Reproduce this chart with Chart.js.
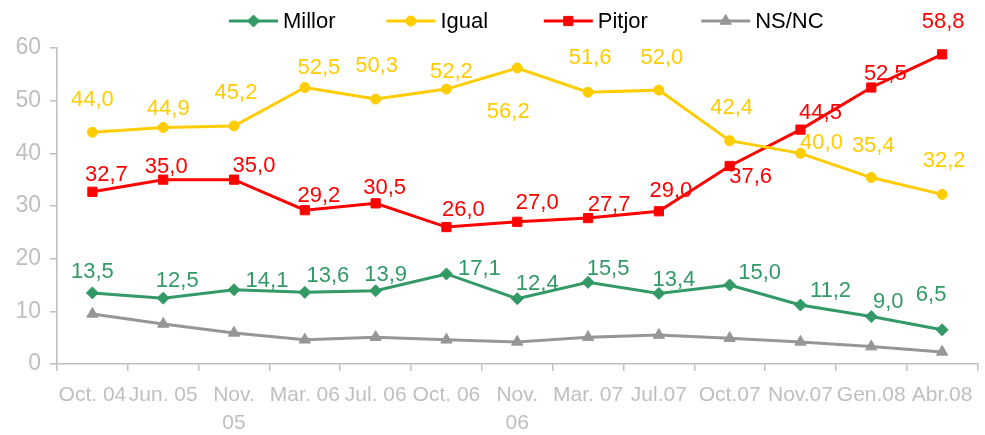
<!DOCTYPE html>
<html lang="ca">
<head>
<meta charset="UTF-8" />
<title>Millor / Igual / Pitjor / NS-NC</title>
<script src="https://cdn.jsdelivr.net/npm/chart.js"></script>
<style>
  body { margin: 0; background: #fff; }
  .wrap { width: 985px; height: 435px; position: relative; }
</style>
</head>
<body>
<div class="wrap"><canvas id="chart"></canvas></div>
<script>
  // periods on the x axis
  const periods = ['Oct. 04', 'Jun. 05', ['Nov.', '05'], 'Mar. 06', 'Jul. 06', 'Oct. 06',
                   ['Nov.', '06'], 'Mar. 07', 'Jul.07', 'Oct.07', 'Nov.07', 'Gen.08', 'Abr.08'];

  // series values (%)
  const millor = [13.5, 12.5, 14.1, 13.6, 13.9, 17.1, 12.4, 15.5, 13.4, 15.0, 11.2, 9.0, 6.5];
  const igual  = [44.0, 44.9, 45.2, 52.5, 50.3, 52.2, 56.2, 51.6, 52.0, 42.4, 40.0, 35.4, 32.2];
  const pitjor = [32.7, 35.0, 35.0, 29.2, 30.5, 26.0, 27.0, 27.7, 29.0, 37.6, 44.5, 52.5, 58.8];
  const nsnc   = [9.5, 7.6, 5.9, 4.6, 5.1, 4.6, 4.2, 5.1, 5.5, 4.9, 4.2, 3.3, 2.3];

  const yTicks = [0, 10, 20, 30, 40, 50, 60];

  // where each value label sits relative to its point (px)
  const millorLabelPos = [[0,-21],[14,-17],[33,-9],[23,-16],[10,-16],[33,-5],[20,-15],[20,-13],[15,-13],[30,-12],[30,-14],[17,-15],[-11,-35]];
  const igualLabelPos  = [[0,-32],[5,-19],[2,-33],[14,-20],[1,-33],[5,-17],[-9,44],[2,-34],[3,-32],[2,-33],[21,-10],[2,-32],[2,-33]];
  const pitjorLabelPos = [[14,-17],[3,-13],[20,-14],[14,-14],[9,-15],[17,-17],[20,-19],[21,-13],[12,-20],[21,11],[20,-17],[14,-14],[1,-32]];

  const FONT = "'Liberation Sans', Arial, sans-serif";
  const AXIS_GREY = '#BFBFBF';

  function fmt(v) {
    return v.toFixed(1).replace('.', ',');
  }

  function drawMarker(ctx, style, r, x, y) {
    ctx.beginPath();
    if (style === 'circle') {
      ctx.arc(x, y, r, 0, Math.PI * 2);
    } else if (style === 'rect') {
      const s = r * Math.SQRT1_2;
      ctx.rect(x - s, y - s, 2 * s, 2 * s);
    } else if (style === 'rectRot') {
      ctx.moveTo(x, y - r); ctx.lineTo(x + r, y); ctx.lineTo(x, y + r); ctx.lineTo(x - r, y);
      ctx.closePath();
    } else if (style === 'triangle') {
      ctx.moveTo(x, y - r);
      ctx.lineTo(x + r * 0.866, y + r * 0.5);
      ctx.lineTo(x - r * 0.866, y + r * 0.5);
      ctx.closePath();
    }
    ctx.fill();
    ctx.stroke();
  }

  const valueLabels = {
    id: 'valueLabels',
    afterDatasetsDraw(chart) {
      const ctx = chart.ctx;
      ctx.save();
      ctx.font = '22px ' + FONT;
      ctx.textAlign = 'center';
      ctx.textBaseline = 'middle';
      chart.data.datasets.forEach((ds, i) => {
        if (!ds.labelPos) return;
        ctx.fillStyle = ds.borderColor;
        chart.getDatasetMeta(i).data.forEach((pt, j) => {
          const off = ds.labelPos[j];
          ctx.fillText(fmt(ds.data[j]), pt.x + off[0], pt.y + off[1]);
        });
      });
      ctx.restore();
    }
  };

  const topLegend = {
    id: 'topLegend',
    afterDraw(chart) {
      const ctx = chart.ctx;
      ctx.save();
      ctx.font = '22px ' + FONT;
      ctx.textAlign = 'left';
      ctx.textBaseline = 'middle';
      chart.data.datasets.forEach((ds, i) => {
        const x = 229 + i * 157.4;
        const y = 21;
        ctx.strokeStyle = ds.borderColor;
        ctx.lineWidth = 3;
        ctx.beginPath();
        ctx.moveTo(x, y);
        ctx.lineTo(x + 49, y);
        ctx.stroke();
        ctx.fillStyle = ds.borderColor;
        ctx.lineWidth = 1;
        drawMarker(ctx, ds.pointStyle, ds.pointRadius, x + 24.5, y);
        ctx.fillStyle = '#000';
        ctx.fillText(ds.label, x + 54, y + 1);
      });
      ctx.restore();
    }
  };

  function series(label, data, color, style, radius, labelPos) {
    return {
      label: label,
      data: data,
      borderColor: color,
      backgroundColor: color,
      borderWidth: 3,
      pointStyle: style,
      pointRadius: radius,
      pointBorderWidth: 1,
      pointBackgroundColor: color,
      pointBorderColor: color,
      tension: 0,
      labelPos: labelPos
    };
  }

  new Chart(document.getElementById('chart'), {
    type: 'line',
    data: {
      labels: periods,
      datasets: [
        series('Millor', millor, '#339966', 'rectRot', 6, millorLabelPos),
        series('Igual', igual, '#FFCC00', 'circle', 5, igualLabelPos),
        series('Pitjor', pitjor, '#FF0000', 'rect', 6.5, pitjorLabelPos),
        series('NS/NC', nsnc, '#969696', 'triangle', 6.5, null)
      ]
    },
    options: {
      responsive: true,
      maintainAspectRatio: false,
      animation: false,
      layout: { padding: { top: 48, right: 1, left: 0, bottom: 0 } },
      plugins: {
        legend: { display: false },
        tooltip: { enabled: false }
      },
      scales: {
        x: {
          offset: true,
          afterFit: s => { s.height = 71; },
          grid: { offset: true, drawOnChartArea: false, drawTicks: true, tickLength: 7, color: AXIS_GREY, lineWidth: 1.5 },
          border: { color: AXIS_GREY, width: 1.5 },
          ticks: {
            color: AXIS_GREY,
            font: { family: FONT, size: 21, lineHeight: 1.33 },
            padding: 10,
            maxRotation: 0,
            autoSkip: false
          }
        },
        y: {
          min: yTicks[0],
          max: yTicks[yTicks.length - 1],
          afterFit: s => { s.width = 57; },
          afterBuildTicks: s => { s.ticks = yTicks.map(v => ({ value: v })); },
          grid: { drawOnChartArea: false, drawTicks: true, tickLength: 7, color: AXIS_GREY, lineWidth: 1.5 },
          border: { color: AXIS_GREY, width: 1.5 },
          ticks: {
            color: AXIS_GREY,
            font: { family: FONT, size: 23 },
            padding: 9
          }
        }
      }
    },
    plugins: [valueLabels, topLegend]
  });
</script>
</body>
</html>
